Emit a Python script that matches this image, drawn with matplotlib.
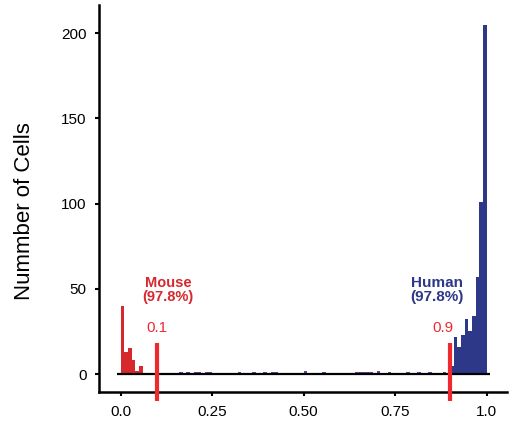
import numpy as np
import matplotlib.pyplot as plt

plt.rcParams['font.family'] = ['Liberation Sans', 'DejaVu Sans']

BIN = 0.01
RED = '#d7282e'
LINE_RED = '#ee2a30'
BLUE = '#2e3889'
PURPLE = '#6c3d8f'

# mouse cells, bins starting at 0.00
mouse_left = [0.00, 0.01, 0.02, 0.03, 0.04, 0.05]
mouse_counts = [40, 13, 15, 8, 2, 5]

# mixed cells in the middle
mixed_left = [0.16, 0.18, 0.20, 0.21, 0.23, 0.24, 0.32, 0.36, 0.39, 0.41, 0.42,
              0.50, 0.55, 0.64, 0.65, 0.66, 0.67, 0.68, 0.70, 0.73, 0.78, 0.81,
              0.84, 0.88]
mixed_counts = [1, 1, 1, 1, 1, 1, 1, 1, 1, 1, 1,
                2, 1, 1, 1, 1, 1, 1, 2, 1, 1, 1,
                1, 1]

# human cells, bins starting at 0.90
human_left = [0.90, 0.91, 0.92, 0.93, 0.94, 0.95, 0.96, 0.97, 0.98, 0.99]
human_counts = [5, 22, 16, 23, 32, 25, 34, 57, 101, 205]

thresholds = [0.1, 0.9]
threshold_label_x = [0.1, 0.882]
xticks = [0.0, 0.25, 0.5, 0.75, 1.0]
xticklabels = ['0.0', '0.25', '0.50', '0.75', '1.0']
yticks = [0, 50, 100, 150, 200]

fig = plt.figure(figsize=(5.18, 4.23), dpi=100)
ax = fig.add_axes([0.191, 0.073, 0.788, 0.915])

ax.bar(mouse_left, mouse_counts, width=BIN, align='edge', color=RED, linewidth=0)
ax.bar(mixed_left, mixed_counts, width=BIN, align='edge', color=PURPLE, linewidth=0)
ax.bar(human_left, human_counts, width=BIN, align='edge', color=BLUE, linewidth=0)

# baseline
ax.plot([-0.01, 1.01], [0, 0], color='black', lw=1.6, solid_capstyle='butt', zorder=3)

# threshold markers
for t, tx in zip(thresholds, threshold_label_x):
    ax.plot([t, t], [-16, 18], color=LINE_RED, lw=3, solid_capstyle='butt',
            clip_on=False, zorder=4)
    ax.text(tx, 23, str(t), color=LINE_RED, ha='center', va='bottom', fontsize=11)

ax.text(0.13, 41, 'Mouse\n(97.8%)', color=RED, fontweight='bold', fontsize=10.5,
        ha='center', va='bottom', linespacing=1.05)
ax.text(0.865, 41, 'Human\n(97.8%)', color=BLUE, fontweight='bold', fontsize=11,
        ha='center', va='bottom', linespacing=1.05)

ax.set_xlim(-0.059, 1.056)
ax.set_ylim(-10.6, 216.4)
ax.set_xticks(xticks)
ax.set_xticklabels(xticklabels)
ax.set_yticks(yticks)
ax.tick_params(axis='both', labelsize=11, length=3, width=1.5, pad=6)
ax.set_ylabel('Nummber of Cells', fontsize=16)
ax.yaxis.set_label_coords(-0.157, 0.468)

for side in ['top', 'right']:
    ax.spines[side].set_visible(False)
for side in ['left', 'bottom']:
    ax.spines[side].set_linewidth(1.8)

fig.savefig('out.png', dpi=100)
